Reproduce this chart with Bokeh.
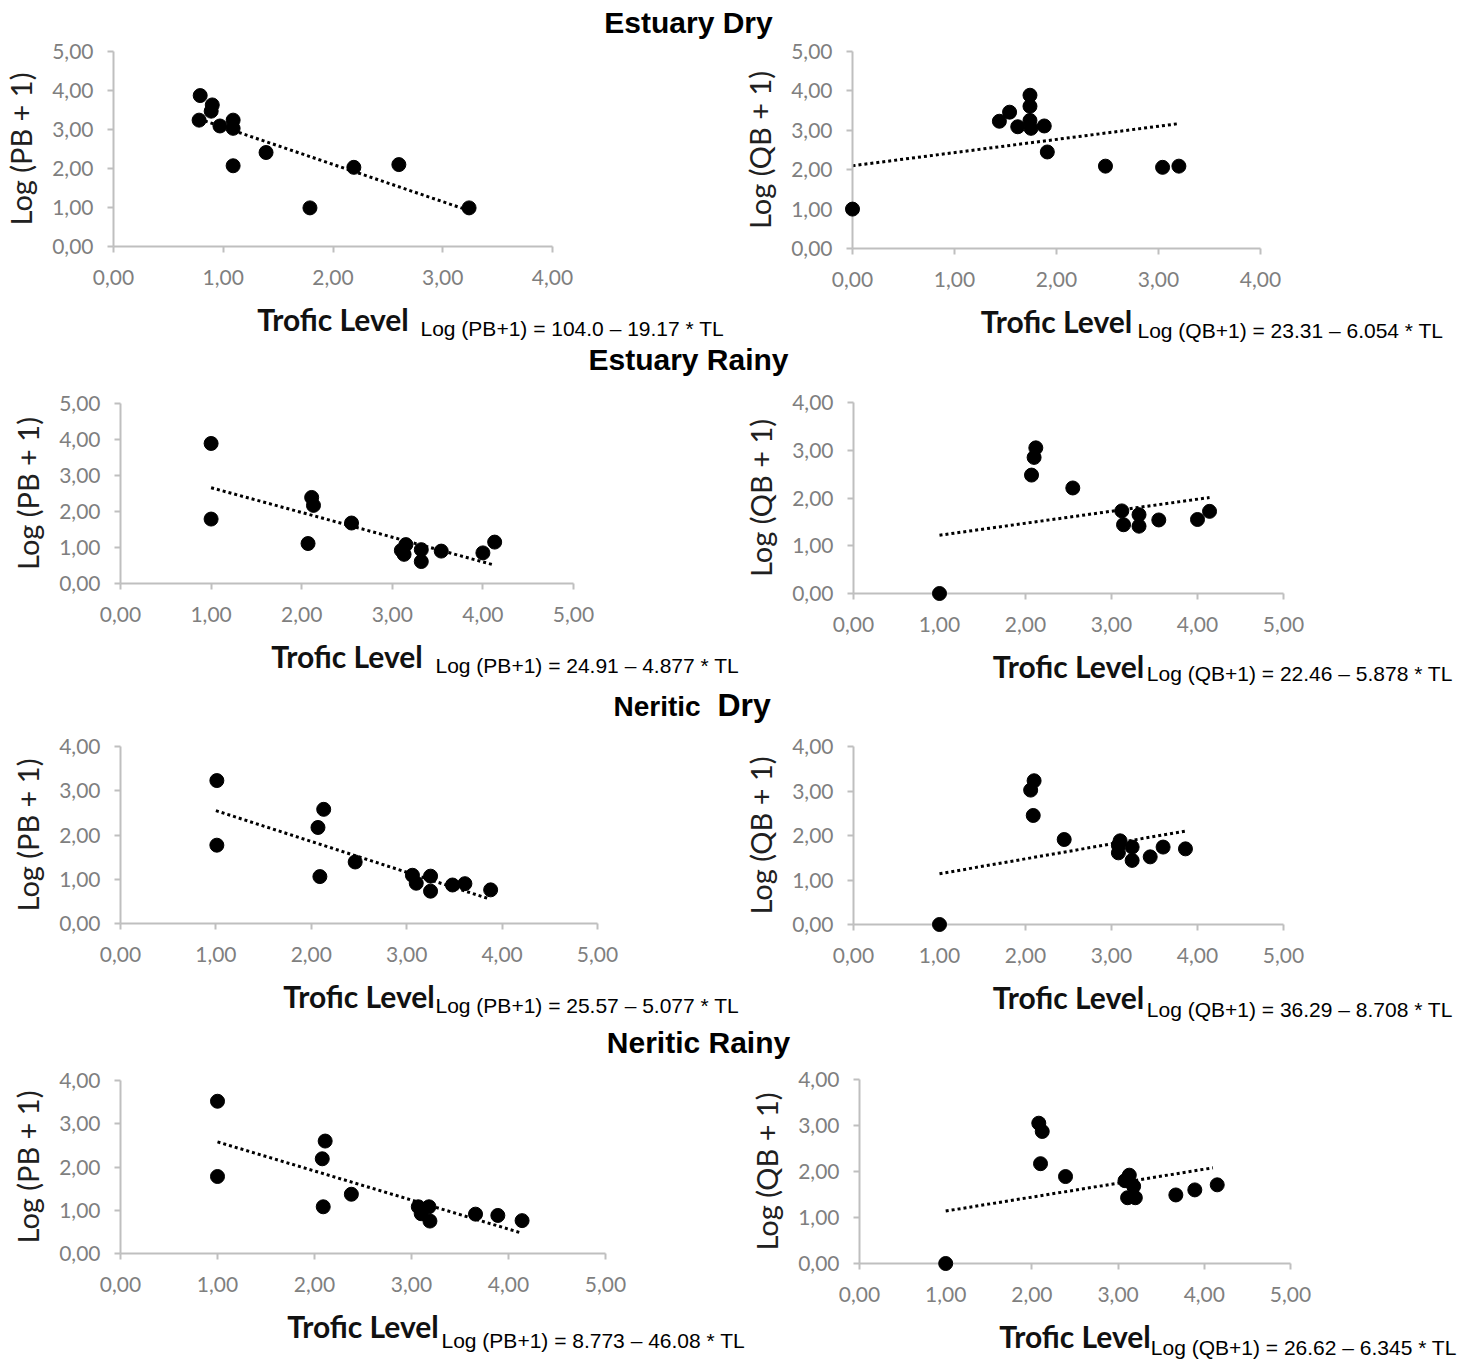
from bokeh.plotting import figure
from bokeh.models import Range1d, FixedTicker
from bokeh.layouts import column, row
from bokeh.core.properties import value
from bokeh.embed import file_html
from bokeh.resources import INLINE

# ---------------- data ----------------
TITLE_PARTS = [["Estuary Dry"], ["Estuary Rainy"], ["Neritic", "Dry"], ["Neritic Rainy"]]
X_LABEL = "Trofic Level"
Y_LABEL_PB = "Log (PB + 1)"
Y_LABEL_QB = "Log (QB + 1)"
TICKS = [0, 1, 2, 3, 4, 5]
TICK_LABELS = ["0,00", "1,00", "2,00", "3,00", "4,00", "5,00"]

EQUATIONS = [
    "Log (PB+1) = 104.0 \u2013 19.17 * TL",
    "Log (QB+1) = 23.31 \u2013 6.054 * TL",
    "Log (PB+1) = 24.91 \u2013 4.877 * TL",
    "Log (QB+1) = 22.46 \u2013 5.878 * TL",
    "Log (PB+1) = 25.57 \u2013 5.077 * TL",
    "Log (QB+1) = 36.29 \u2013 8.708 * TL",
    "Log (PB+1) = 8.773 \u2013 46.08 * TL",
    "Log (QB+1) = 26.62 \u2013 6.345 * TL",
]

# Estuary Dry
ED_PB_TL = [0.79, 0.78, 0.90, 0.89, 0.97, 1.09, 1.09, 1.09, 1.39, 1.79, 2.19, 2.60, 3.24]
ED_PB = [3.87, 3.24, 3.63, 3.47, 3.09, 3.24, 3.03, 2.07, 2.41, 0.99, 2.03, 2.10, 0.99]
ED_PB_TREND_TL = [0.78, 3.24]
ED_PB_TREND = [3.27, 0.92]

ED_QB_TL = [0.00, 1.44, 1.54, 1.62, 1.74, 1.74, 1.74, 1.75, 1.88, 1.91, 2.48, 3.04, 3.20]
ED_QB = [1.00, 3.23, 3.46, 3.09, 3.89, 3.61, 3.25, 3.05, 3.11, 2.45, 2.09, 2.06, 2.09]
ED_QB_TREND_TL = [0.00, 3.20]
ED_QB_TREND = [2.10, 3.17]

# Estuary Rainy
ER_PB_TL = [1.00, 1.00, 2.11, 2.13, 2.07, 2.55, 3.15, 3.10, 3.13, 3.32, 3.32, 3.54, 4.00, 4.13]
ER_PB = [3.89, 1.79, 2.39, 2.17, 1.11, 1.68, 1.08, 0.92, 0.81, 0.94, 0.61, 0.90, 0.85, 1.15]
ER_PB_TREND_TL = [1.00, 4.13]
ER_PB_TREND = [2.66, 0.51]

ER_QB_TL = [1.00, 2.07, 2.10, 2.12, 2.55, 3.12, 3.14, 3.32, 3.32, 3.55, 4.00, 4.14]
ER_QB = [0.00, 2.48, 2.85, 3.05, 2.21, 1.73, 1.44, 1.65, 1.41, 1.54, 1.55, 1.72]
ER_QB_TREND_TL = [1.00, 4.14]
ER_QB_TREND = [1.22, 2.01]

# Neritic Dry
ND_PB_TL = [1.01, 1.01, 2.13, 2.07, 2.09, 2.46, 3.06, 3.10, 3.25, 3.25, 3.48, 3.61, 3.88]
ND_PB = [3.23, 1.77, 2.58, 2.17, 1.06, 1.39, 1.09, 0.91, 1.07, 0.73, 0.87, 0.90, 0.76]
ND_PB_TREND_TL = [1.00, 3.86]
ND_PB_TREND = [2.55, 0.56]

ND_QB_TL = [1.00, 2.06, 2.10, 2.09, 2.45, 3.08, 3.10, 3.08, 3.24, 3.24, 3.45, 3.60, 3.86]
ND_QB = [0.00, 3.02, 3.23, 2.45, 1.91, 1.78, 1.88, 1.61, 1.74, 1.44, 1.52, 1.74, 1.70]
ND_QB_TREND_TL = [1.00, 3.86]
ND_QB_TREND = [1.14, 2.10]

# Neritic Rainy
NR_PB_TL = [1.00, 1.00, 2.11, 2.08, 2.09, 2.38, 3.07, 3.10, 3.18, 3.19, 3.66, 3.89, 4.14]
NR_PB = [3.52, 1.78, 2.60, 2.19, 1.08, 1.37, 1.08, 0.92, 1.08, 0.75, 0.91, 0.88, 0.76]
NR_PB_TREND_TL = [1.00, 4.14]
NR_PB_TREND = [2.58, 0.47]

NR_QB_TL = [1.00, 2.08, 2.12, 2.10, 2.39, 3.08, 3.13, 3.18, 3.11, 3.20, 3.67, 3.89, 4.15]
NR_QB = [0.00, 3.05, 2.87, 2.17, 1.89, 1.80, 1.92, 1.68, 1.43, 1.43, 1.49, 1.60, 1.71]
NR_QB_TREND_TL = [1.00, 4.10]
NR_QB_TREND = [1.14, 2.08]

# ---------------- styling ----------------
AXIS_GRAY = "#bfbfbf"
TICK_GRAY = "#7f7f7f"
TICK_FONT = "Lato"
LABEL_FONT = "Lato"
EQ_FONT = "Liberation Sans"
TITLE_FONT = "Liberation Sans"
TOTAL_W = 1467


def style_axis(ax, ticks, labels, text, is_x, als):
    ax.ticker = FixedTicker(ticks=ticks)
    ax.major_label_overrides = {t: l for t, l in zip(ticks, labels)}
    ax.axis_line_color = AXIS_GRAY
    ax.axis_line_width = 2
    ax.major_tick_line_color = AXIS_GRAY
    ax.major_tick_line_width = 2
    ax.major_tick_out = 6
    ax.major_tick_in = 0
    ax.minor_tick_line_color = None
    ax.major_label_text_font = TICK_FONT
    ax.major_label_text_font_size = "21px"
    ax.major_label_text_color = TICK_GRAY
    ax.axis_label = text
    ax.axis_label_text_font = LABEL_FONT
    ax.axis_label_standoff = als
    if is_x:
        ax.major_label_standoff = 17
        ax.axis_label_text_font_size = "30px"
        ax.axis_label_text_font_style = "bold"
        ax.axis_label_text_color = "#111111"
    else:
        ax.major_label_standoff = 14
        ax.axis_label_text_font_size = "29px"
        ax.axis_label_text_font_style = "normal"
        ax.axis_label_text_color = "#202020"


def make_panel(tl, vals, trend_tl, trend_v, ylabel, eq, xmax, ymax,
               fig_left, fig_top, fig_w, fig_h,
               axis_x, x_end, y_top, y0, eq_x, eq_y):
    ppu_x = (x_end - axis_x) / xmax
    ppu_y = (y0 - y_top) / ymax
    mbl = axis_x - fig_left
    mbt = y_top - fig_top
    mbr = fig_left + fig_w - x_end
    mbb = fig_top + fig_h - y0
    p = figure(width=fig_w, height=fig_h,
               x_range=Range1d(0, xmax), y_range=Range1d(0, ymax),
               output_backend="svg", toolbar_location=None,
               min_border_left=mbl, min_border_right=mbr,
               min_border_top=mbt, min_border_bottom=mbb)
    p.grid.visible = False
    p.outline_line_color = None

    style_axis(p.xaxis[0], TICKS[:xmax + 1], TICK_LABELS[:xmax + 1], X_LABEL, True, 13)
    style_axis(p.yaxis[0], TICKS[:ymax + 1], TICK_LABELS[:ymax + 1], ylabel, False, 11)

    p.line(trend_tl, trend_v, line_color="black", line_width=3, line_dash="3 3")
    p.scatter(tl, vals, size=14, color="black", marker="circle", level="annotation")

    p.text(x=[(eq_x - axis_x) / ppu_x], y=[-(eq_y - y0) / ppu_y], text=[eq],
           text_font=value(EQ_FONT), text_font_size=value("21px"),
           text_color="black", text_align="left", text_baseline="middle",
           level="annotation")
    return column(p)


def make_title(top, h, parts):
    p = figure(width=TOTAL_W, height=h, title=None,
               x_range=Range1d(0, TOTAL_W), y_range=Range1d(0, h),
               output_backend="svg", toolbar_location=None, min_border=0,
               x_axis_location=None, y_axis_location=None)
    p.grid.visible = False
    p.outline_line_color = None
    for text, xpage, baseline, size, align in parts:
        center = baseline - 0.35 * size
        p.text(x=[xpage], y=[h - (center - top)], text=[text],
               text_font=value(TITLE_FONT), text_font_style="bold",
               text_font_size=value(f"{size}px"), text_color="black",
               text_align=align, text_baseline="middle", level="annotation")
    return p


# ---------------- layout (page pixels) ----------------
t1 = make_title(0, 39, [(TITLE_PARTS[0][0], 688, 32, 30, "center")])
r1_top, r1_h, b1 = 39, 303, 738
p1 = make_panel(ED_PB_TL, ED_PB, ED_PB_TREND_TL, ED_PB_TREND, Y_LABEL_PB, EQUATIONS[0], 4, 5,
                0, r1_top, b1, r1_h, 113, 552, 51, 246, 420, 328)
p2 = make_panel(ED_QB_TL, ED_QB, ED_QB_TREND_TL, ED_QB_TREND, Y_LABEL_QB, EQUATIONS[1], 4, 5,
                b1, r1_top, TOTAL_W - b1, r1_h, 852, 1260, 51, 248, 1137, 330)

t2 = make_title(342, 34, [(TITLE_PARTS[1][0], 688, 369.5, 30, "center")])
r2_top, r2_h, b2 = 376, 311, 740
p3 = make_panel(ER_PB_TL, ER_PB, ER_PB_TREND_TL, ER_PB_TREND, Y_LABEL_PB, EQUATIONS[2], 5, 5,
                0, r2_top, b2, r2_h, 120, 573, 403, 583, 435, 665)
p4 = make_panel(ER_QB_TL, ER_QB, ER_QB_TREND_TL, ER_QB_TREND, Y_LABEL_QB, EQUATIONS[3], 5, 4,
                b2, r2_top, TOTAL_W - b2, r2_h, 852, 1283, 402, 593, 1146, 673)

t3 = make_title(687, 43, [(TITLE_PARTS[2][0], 613, 716, 28, "left"),
                          (TITLE_PARTS[2][1], 717, 716, 32, "left")])
r3_top, r3_h, b3 = 730, 294, 740
p5 = make_panel(ND_PB_TL, ND_PB, ND_PB_TREND_TL, ND_PB_TREND, Y_LABEL_PB, EQUATIONS[4], 5, 4,
                0, r3_top, b3, r3_h, 120, 597, 746, 923, 435, 1005)
p6 = make_panel(ND_QB_TL, ND_QB, ND_QB_TREND_TL, ND_QB_TREND, Y_LABEL_QB, EQUATIONS[5], 5, 4,
                b3, r3_top, TOTAL_W - b3, r3_h, 852, 1283, 746, 924, 1146, 1009)

t4 = make_title(1024, 38, [(TITLE_PARTS[3][0], 698, 1052, 30, "center")])
r4_top, r4_h, b4 = 1062, 298, 746
p7 = make_panel(NR_PB_TL, NR_PB, NR_PB_TREND_TL, NR_PB_TREND, Y_LABEL_PB, EQUATIONS[6], 5, 4,
                0, r4_top, b4, r4_h, 120, 605, 1080, 1253, 441, 1340)
p8 = make_panel(NR_QB_TL, NR_QB, NR_QB_TREND_TL, NR_QB_TREND, Y_LABEL_QB, EQUATIONS[7], 5, 4,
                b4, r4_top, TOTAL_W - b4, r4_h, 858, 1290, 1079, 1263, 1150, 1347)

layout = column(t1, row(p1, p2), t2, row(p3, p4), t3, row(p5, p6), t4, row(p7, p8))

open("out.html", "w").write(file_html(layout, INLINE))
